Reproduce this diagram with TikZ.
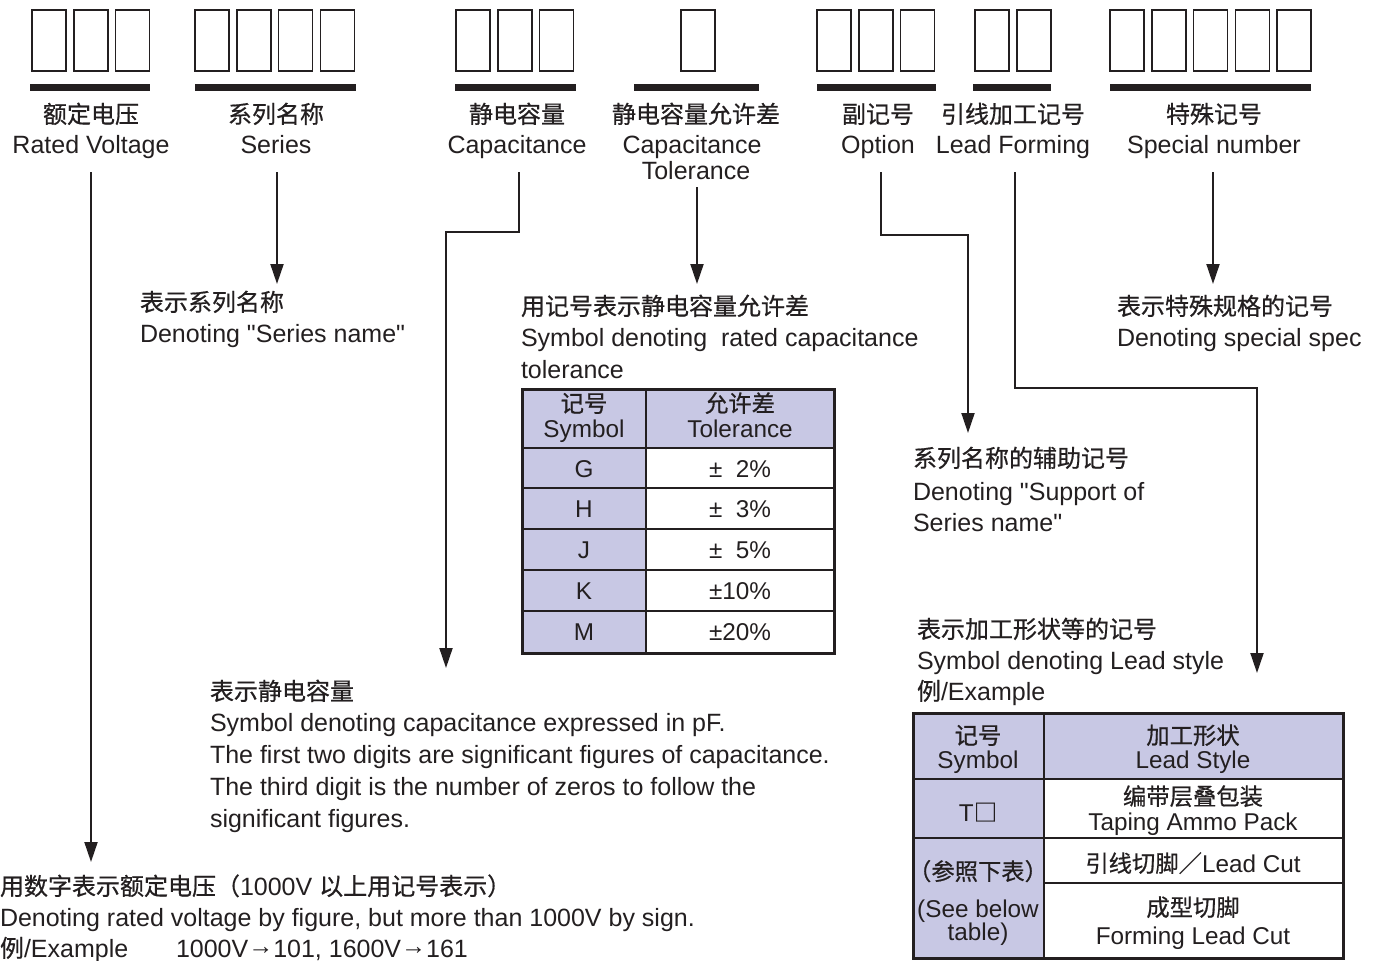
\documentclass[tikz,border=0pt]{standalone}
\usepackage{fontspec}
\setmainfont{Liberation Sans}[Ligatures=TeXOff]
\newfontfamily\cjk{Noto Sans CJK SC}[Scale=0.96, FakeBold=0.6]
\usetikzlibrary{arrows.meta}
\definecolor{lav}{RGB}{200,200,228}
\definecolor{ink}{RGB}{35,31,32}
\newcommand{\smallarrow}{\raisebox{3pt}{→}}
\begin{document}
\begin{tikzpicture}[x=1pt,y=-1pt,
  txt/.style={inner sep=0pt, outer sep=0pt, font=\fontsize{25}{30}\selectfont, text=ink},
  lbl/.style={txt, anchor=base},
  lft/.style={txt, anchor=base west},
  tb/.style={txt, anchor=base, font=\fontsize{24.3}{28}\selectfont},
  digitbox/.style={draw=ink, line width=1.5pt, minimum width=34pt, minimum height=61pt, inner sep=0pt},
  conn/.style={draw=ink, line width=2pt, line join=miter},
  arr/.style={conn, -{Triangle[width=13pt,length=20pt]}},
  gridline/.style={draw=ink, line width=2pt},
  headline/.style={draw=ink, line width=2.6pt},
  frame/.style={draw=ink, line width=3pt}
]
\useasboundingbox (0,0) rectangle (1376,961);

% digit boxes
\foreach \g/\x/\n in {a/32/3, b/195/4, c/456/3, d/681/1, e/817/3, f/975/2, g/1110/5} {
  \foreach \i in {1,...,\n} {
    \node[digitbox] (\g\i) at ({\x+17+(\i-1)*41.75}, 40.5) {};
  }
}
% bars
\fill[ink] (30,84) rectangle (150,91);
\fill[ink] (195,84) rectangle (356,91);
\fill[ink] (455,84) rectangle (576,91);
\fill[ink] (634,84) rectangle (759,91);
\fill[ink] (817,84) rectangle (936,91);
\fill[ink] (973,84) rectangle (1051,91);
\fill[ink] (1110,84) rectangle (1311,91);

% top labels
\node[lbl] (rvC) at (91,123) {\cjk 额定电压};
\node[lbl] (rvE) at (91,153) {Rated Voltage};
\node[lbl] (seC) at (276,123) {\cjk 系列名称};
\node[lbl] (seE) at (276,153) {Series};
\node[lbl] (caC) at (517,123) {\cjk 静电容量};
\node[lbl] (caE) at (517,153) {Capacitance};
\node[lbl] (ctC) at (696,123) {\cjk 静电容量允许差};
\node[lbl] (ctE) at (692,153) {Capacitance};
\node[lbl] (ctE2) at (696,179) {Tolerance};
\node[lbl] (opC) at (878,123) {\cjk 副记号};
\node[lbl] (opE) at (878,153) {Option};
\node[lbl] (lfC) at (1013,123) {\cjk 引线加工记号};
\node[lbl] (lfE) at (1013,153) {Lead Forming};
\node[lbl] (spC) at (1214,123) {\cjk 特殊记号};
\node[lbl] (spE) at (1214,153) {Special number};

% connector coordinates
\coordinate (rvS) at (91,172);   \coordinate (rvT) at (91,862);
\coordinate (seS) at (277,172);  \coordinate (seT) at (277,284);
\coordinate (caS) at (519,172);  \coordinate (caM1) at (519,232);
\coordinate (caM2) at (446,232); \coordinate (caT) at (446,668);
\coordinate (ctS) at (697,187);  \coordinate (ctT) at (697,284);
\coordinate (opS) at (881,172);  \coordinate (opM1) at (881,235);
\coordinate (opM2) at (968,235); \coordinate (opT) at (968,433);
\coordinate (lfS) at (1015,172); \coordinate (lfM1) at (1015,388);
\coordinate (lfM2) at (1257,388);\coordinate (lfT) at (1257,673);
\coordinate (spS) at (1213,172); \coordinate (spT) at (1213,284);

\draw[arr] (rvS) -- (rvT);
\draw[arr] (seS) -- (seT);
\draw[arr] (caS) -- (caM1) -- (caM2) -- (caT);
\draw[arr] (ctS) -- (ctT);
\draw[arr] (opS) -- (opM1) -- (opM2) -- (opT);
\draw[arr] (lfS) -- (lfM1) -- (lfM2) -- (lfT);
\draw[arr] (spS) -- (spT);

% description texts
\node[lft] (seD1) at (140,311) {\cjk 表示系列名称};
\node[lft] (seD2) at (140,342) {Denoting "Series name"};

\node[lft] (ctD1) at (521,315) {\cjk 用记号表示静电容量允许差};
\node[lft] (ctD2) at (521,346) {Symbol denoting\ \ rated capacitance};
\node[lft] (ctD3) at (521,378) {tolerance};

\node[lft] (spD1) at (1117,315) {\cjk 表示特殊规格的记号};
\node[lft] (spD2) at (1117,346) {Denoting special spec};

\node[lft] (opD1) at (913,467) {\cjk 系列名称的辅助记号};
\node[lft] (opD2) at (913,500) {Denoting "Support of};
\node[lft] (opD3) at (913,531) {Series name"};

\node[lft] (lfD1) at (917,638) {\cjk 表示加工形状等的记号};
\node[lft] (lfD2) at (917,669) {Symbol denoting Lead style};
\node[lft] (lfD3) at (917,700) {{\cjk 例}/Example};

\node[lft] (caD1) at (210,700) {\cjk 表示静电容量};
\node[lft] (caD2) at (210,731) {Symbol denoting capacitance expressed in pF.};
\node[lft] (caD3) at (210,763) {The first two digits are significant figures of capacitance.};
\node[lft] (caD4) at (210,795) {The third digit is the number of zeros to follow the};
\node[lft] (caD5) at (210,827) {significant figures.};

\node[lft] (rvD1) at (0,895) {{\cjk 用数字表示额定电压（}1000V {\cjk 以上用记号表示）}};
\node[lft] (rvD2) at (0,926) {Denoting rated voltage by figure, but more than 1000V by sign.};
\node[lft] (rvD3) at (0,957) {{\cjk 例}/Example};
\node[lft] (rvD4) at (176,957) {1000V\smallarrow 101, 1600V\smallarrow 161};

% table 1: tolerance
\fill[lav] (522,389) rectangle (834,448);
\fill[lav] (522,448) rectangle (646,653);
\draw[gridline] (646,389) -- (646,653);
\draw[headline] (522,448) -- (834,448);
\foreach \yy in {488,529,570,611} { \draw[gridline] (522,\yy) -- (834,\yy); }
\draw[frame] (522,389) rectangle (834,653);
\node[tb] (t1a) at (584,412) {\cjk 记号};
\node[tb] (t1b) at (584,437) {Symbol};
\node[tb] (t1c) at (740,412) {\cjk 允许差};
\node[tb] (t1d) at (740,437) {Tolerance};
\foreach \s/\v/\yy [count=\k] in {G/{±\hphantom{0}2\%}/477, H/{±\hphantom{0}3\%}/517, J/{±\hphantom{0}5\%}/558, K/{±10\%}/599, M/{±20\%}/640} {
  \node[tb] (t1s\k) at (584,\yy) {\s};
  \node[tb] (t1v\k) at (740,\yy) {\v};
}

% table 2: lead style
\fill[lav] (913,713) rectangle (1343,779);
\fill[lav] (913,779) rectangle (1044,958);
\draw[gridline] (1044,713) -- (1044,958);
\draw[headline] (913,779) -- (1343,779);
\draw[gridline] (913,838) -- (1343,838);
\draw[gridline] (1044,883) -- (1343,883);
\draw[frame] (913,713) rectangle (1343,958);
\node[tb] (t2a) at (978,744) {\cjk 记号};
\node[tb] (t2b) at (978,768) {Symbol};
\node[tb] (t2c) at (1193,744) {\cjk 加工形状};
\node[tb] (t2d) at (1193,768) {Lead Style};
\node[tb] (t2e) at (978,821) {T{\cjk □}};
\node[tb] (t2f) at (1193,805) {\cjk 编带层叠包装};
\node[tb] (t2g) at (1193,830) {Taping Ammo Pack};
\node[tb] (t2h) at (1193,872) {{\cjk 引线切脚／}Lead Cut};
\node[tb] (t2i) at (1193,916) {\cjk 成型切脚};
\node[tb] (t2j) at (1193,944) {Forming Lead Cut};
\node[tb] (t2k) at (978,880) {\cjk （参照下表）};
\node[tb] (t2l) at (978,917) {(See below};
\node[tb] (t2m) at (978,940) {table)};
\end{tikzpicture}
\end{document}
